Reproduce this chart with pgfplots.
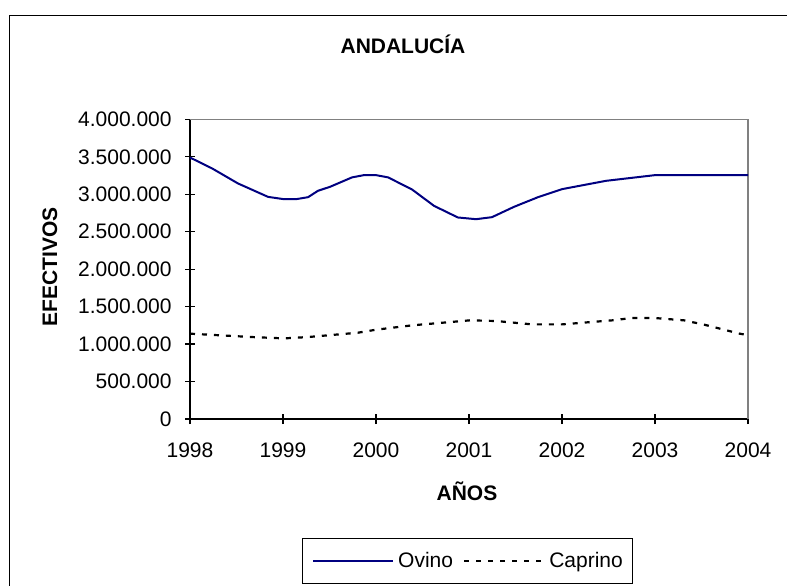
\documentclass[border=0pt]{standalone}
\usepackage{fontspec}
\setmainfont{Liberation Sans}
\usepackage{pgfplots}
\pgfplotsset{compat=1.18}
\definecolor{navy}{RGB}{0,0,128}
\definecolor{bordergray}{RGB}{128,128,128}
\begin{document}
\fontsize{10.5}{12.6}\selectfont
\begin{tikzpicture}
\path[use as bounding box] (0,0) rectangle (393.5pt,-292.5pt);
\draw[line width=0.65pt] (4.6pt,-300pt) -- (4.6pt,-7.6pt) -- (400pt,-7.6pt);
\node[font=\bfseries, anchor=base, inner sep=0pt] at (201.5pt,-26.6pt) {ANDALUCÍA};
\node[font=\bfseries, rotate=90, anchor=center, inner sep=0pt] at (25pt,-133.3pt) {EFECTIVOS};
\node[font=\bfseries, anchor=base, inner sep=0pt] at (233.5pt,-250pt) {AÑOS};
\begin{axis}[
  at={(95pt,-209.5pt)}, anchor=south west,
  scale only axis, width=279pt, height=149.85pt,
  xmin=1998, xmax=2004, ymin=0, ymax=4000000,
  axis x line*=bottom, axis y line*=left,
  axis line style={-, black, line width=0.65pt},
  tick align=center, major tick length=5pt,
  tick style={black, line width=0.65pt},
  xtick={1998,1999,2000,2001,2002,2003,2004},
  xticklabels={1998,1999,2000,2001,2002,2003,2004},
  ytick={0,500000,1000000,1500000,2000000,2500000,3000000,3500000,4000000},
  yticklabels={0,500.000,1.000.000,1.500.000,2.000.000,2.500.000,3.000.000,3.500.000,4.000.000},
  scaled y ticks=false, scaled x ticks=false,
  yticklabel style={anchor=east, inner sep=0pt, xshift=-6.5pt},
  xticklabel style={anchor=north, inner sep=0pt, yshift=-9pt},
  clip=false,
  legend columns=2,
  legend style={at={(0.4973,-0.4738)}, anchor=center, draw=black, line width=0.5pt,
    inner xsep=5pt, inner ysep=6.6pt,
    nodes={inner sep=0pt, anchor=west},
    /tikz/every odd column/.append style={column sep=2pt},
    /tikz/every even column/.append style={column sep=5pt}},
  legend image code/.code={\draw[#1] (0pt,0pt) -- (40pt,0pt);},
]
\draw[bordergray, line width=0.65pt] (rel axis cs:0,1) -- (rel axis cs:1,1) -- (rel axis cs:1,0);
\addplot[navy, line width=1pt] coordinates {
(1998.000,3490000) (1998.237,3345000) (1998.516,3144000) (1998.839,2965000)
(1999.010,2934000) (1999.140,2934000) (1999.270,2961000) (1999.376,3046000)
(1999.505,3099000) (1999.742,3225000) (1999.870,3255000) (2000.000,3255000)
(2000.130,3225000) (2000.387,3064000) (2000.624,2845000) (2000.880,2690000)
(2001.075,2667000) (2001.247,2694000) (2001.484,2832000) (2001.742,2961000)
(2002.000,3068000) (2002.473,3179000) (2003.000,3255000) (2004.000,3255000)
};
\addlegendentry{Ovino}
\addplot[black, line width=1.1pt, dash pattern=on 2.5pt off 3.5pt] coordinates {
(1998.000,1139000) (1998.667,1094000) (1999.010,1076000) (1999.270,1094000)
(1999.806,1152000) (2000.000,1192000) (2000.387,1250000) (2001.010,1317000)
(2001.290,1308000) (2001.680,1263000) (2002.000,1263000) (2002.540,1317000)
(2002.750,1348000) (2003.000,1348000) (2003.310,1317000) (2003.530,1259000)
(2003.910,1139000) (2004.000,1120000)
};
\addlegendentry{Caprino}
\end{axis}
\end{tikzpicture}
\end{document}
